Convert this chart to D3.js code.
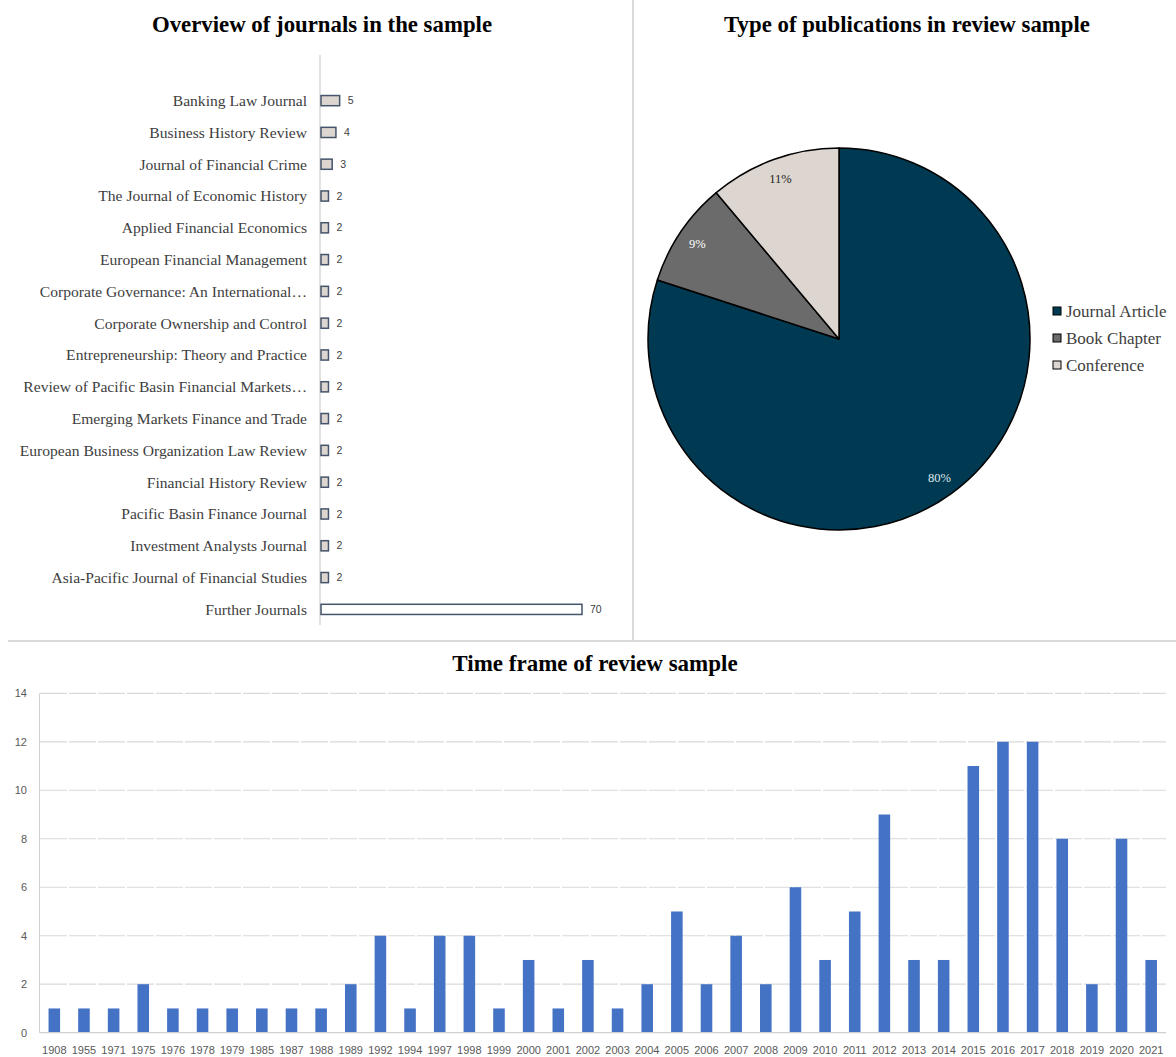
<!DOCTYPE html>
<html>
<head>
<meta charset="utf-8">
<script src="https://cdn.jsdelivr.net/npm/d3@7"></script>
<style>
html,body{margin:0;padding:0;background:#fff;}
svg{display:block;}
</style>
</head>
<body>
<svg id="chart" width="1176" height="1057"></svg>
<script>
// ---------- DATA ----------
const journalNames = [
  "Banking Law Journal",
  "Business History Review",
  "Journal of Financial Crime",
  "The Journal of Economic History",
  "Applied Financial Economics",
  "European Financial Management",
  "Corporate Governance: An International\u2026",
  "Corporate Ownership and Control",
  "Entrepreneurship: Theory and Practice",
  "Review of Pacific Basin Financial Markets\u2026",
  "Emerging Markets Finance and Trade",
  "European Business Organization Law Review",
  "Financial History Review",
  "Pacific Basin Finance Journal",
  "Investment Analysts Journal",
  "Asia-Pacific Journal of Financial Studies",
  "Further Journals"
];
const journalCounts = [5,4,3,2,2,2,2,2,2,2,2,2,2,2,2,2,70];

const pubTypes = ["Journal Article","Book Chapter","Conference"];
const pubCounts = [108,12,15];
const pubLabels = ["80%","9%","11%"];

const years = ["1908","1955","1971","1975","1976","1978","1979","1985","1987","1988",
  "1989","1992","1994","1997","1998","1999","2000","2001","2002","2003",
  "2004","2005","2006","2007","2008","2009","2010","2011","2012","2013",
  "2014","2015","2016","2017","2018","2019","2020","2021"];
const yearCounts = [1,1,1,2,1,1,1,1,1,1,
  2,4,1,4,4,1,3,1,3,1,
  2,5,2,4,2,6,3,5,9,3,
  3,11,12,12,8,2,8,3];
const yTicks = [0,2,4,6,8,10,12,14];

// ---------- DRAW ----------
const svg = d3.select("#chart");
const serif = "'Liberation Serif','Times New Roman',serif";
const sans = "'Liberation Sans','Open Sans',Arial,sans-serif";

// dividers
svg.append("line").attr("x1",633).attr("x2",633).attr("y1",0).attr("y2",641)
  .attr("stroke","#d9d9d9").attr("stroke-width",2);
svg.append("line").attr("x1",8).attr("x2",1176).attr("y1",641).attr("y2",641)
  .attr("stroke","#d9d9d9").attr("stroke-width",2);

// ---------- Panel 1: journals ----------
const p1 = svg.append("g");
p1.append("text").attr("x",322).attr("y",32).attr("text-anchor","middle")
  .attr("font-family",serif).attr("font-weight","bold").attr("font-size",22.8)
  .attr("fill","#000").text("Overview of journals in the sample");

const yJ = d3.scaleBand().domain(journalNames).range([86,624]).paddingInner(0.68).paddingOuter(0.3);
const xJ = d3.scaleLinear().domain([0,70]).range([321,582]);

p1.append("line").attr("x1",320).attr("x2",320).attr("y1",55).attr("y2",625)
  .attr("stroke","#d9d9d9").attr("stroke-width",1.5);

p1.selectAll("rect.jb").data(journalNames).enter().append("rect")
  .attr("class","jb")
  .attr("x",xJ(0))
  .attr("y",d=>yJ(d))
  .attr("width",(d,i)=>xJ(journalCounts[i])-xJ(0))
  .attr("height",yJ.bandwidth())
  .attr("fill",(d,i)=> i===journalNames.length-1 ? "#ffffff" : "#ddd6d0")
  .attr("stroke","#44546a").attr("stroke-width",1.5);

p1.selectAll("text.jl").data(journalNames).enter().append("text")
  .attr("class","jl")
  .attr("x",307).attr("y",d=>yJ(d)+yJ.bandwidth()/2)
  .attr("dy","0.35em").attr("text-anchor","end")
  .attr("font-family",serif).attr("font-size",15.6).attr("fill","#404040")
  .text(d=>d);

p1.selectAll("text.jv").data(journalNames).enter().append("text")
  .attr("class","jv")
  .attr("x",(d,i)=>xJ(journalCounts[i])+8).attr("y",d=>yJ(d)+yJ.bandwidth()/2)
  .attr("dy","0.35em")
  .attr("font-family",sans).attr("font-size",10.5).attr("fill","#404040")
  .text((d,i)=>journalCounts[i]);

// ---------- Panel 2: pie ----------
const p2 = svg.append("g");
p2.append("text").attr("x",907).attr("y",32).attr("text-anchor","middle")
  .attr("font-family",serif).attr("font-weight","bold").attr("font-size",22.8)
  .attr("fill","#000").text("Type of publications in review sample");

const pieColors = d3.scaleOrdinal().domain(pubTypes).range(["#003a52","#6b6b6b","#ddd6d0"]);
const labelColors = d3.scaleOrdinal().domain(pubTypes).range(["#dfe6ea","#ffffff","#222222"]);
const pie = d3.pie().sort(null).value((d,i)=>pubCounts[i]);
const arcs = pie(pubTypes);
const R = 191;
const arc = d3.arc().innerRadius(0).outerRadius(R);
const labelArc = d3.arc().innerRadius(171).outerRadius(171);
const pg = p2.append("g").attr("transform","translate(839,339)");
pg.selectAll("path").data(arcs).enter().append("path")
  .attr("d",arc).attr("fill",d=>pieColors(d.data))
  .attr("stroke","#000").attr("stroke-width",1.5).attr("stroke-linejoin","round");
pg.selectAll("text").data(arcs).enter().append("text")
  .attr("transform",d=>`translate(${labelArc.centroid(d)})`)
  .attr("text-anchor","middle").attr("dy","0.35em")
  .attr("font-family",serif).attr("font-size",12.5)
  .attr("fill",d=>labelColors(d.data))
  .text((d,i)=>pubLabels[i]);

const lg = p2.append("g");
const yL = d3.scalePoint().domain(pubTypes).range([311,365]);
lg.selectAll("rect").data(pubTypes).enter().append("rect")
  .attr("x",1053).attr("y",d=>yL(d)-4).attr("width",8).attr("height",8)
  .attr("fill",d=>pieColors(d)).attr("stroke","#000").attr("stroke-width",1);
lg.selectAll("text").data(pubTypes).enter().append("text")
  .attr("x",1066).attr("y",d=>yL(d)).attr("dy","0.35em")
  .attr("font-family",serif).attr("font-size",17).attr("fill","#404040")
  .text(d=>d);

// ---------- Panel 3: timeline ----------
const p3 = svg.append("g");
p3.append("text").attr("x",595).attr("y",671).attr("text-anchor","middle")
  .attr("font-family",serif).attr("font-weight","bold").attr("font-size",23)
  .attr("fill","#000").text("Time frame of review sample");

const xT = d3.scaleBand().domain(years).range([39.5,1166]).paddingInner(0.61).paddingOuter(0.305);
const yT = d3.scaleLinear().domain([0,14]).range([1032.7,693.3]);

p3.append("g").selectAll("line").data(yTicks.filter(t=>t>0)).enter().append("line")
  .attr("x1",40).attr("x2",1166).attr("y1",d=>yT(d)).attr("y2",d=>yT(d))
  .attr("stroke","#d9d9d9").attr("stroke-width",1.2).attr("stroke-dasharray","27,2");

p3.append("line").attr("x1",39.5).attr("x2",39.5).attr("y1",yT(14)).attr("y2",yT(0))
  .attr("stroke","#d0d0d0").attr("stroke-width",1);

p3.selectAll("rect").data(years).enter().append("rect")
  .attr("x",d=>xT(d)).attr("width",xT.bandwidth())
  .attr("y",(d,i)=>yT(yearCounts[i]))
  .attr("height",(d,i)=>yT(0)-yT(yearCounts[i]))
  .attr("fill","#4472c4");

p3.append("line").attr("x1",39.5).attr("x2",1166).attr("y1",yT(0)).attr("y2",yT(0))
  .attr("stroke","#d0d0d0").attr("stroke-width",1.2);

p3.selectAll("text.yt").data(yTicks).enter().append("text")
  .attr("class","yt")
  .attr("x",27).attr("y",d=>yT(d)).attr("dy","0.35em").attr("text-anchor","end")
  .attr("font-family",sans).attr("font-size",11).attr("fill","#595959")
  .text(d=>d);

p3.selectAll("text.xt").data(years).enter().append("text")
  .attr("class","xt")
  .attr("x",d=>xT(d)+xT.bandwidth()/2).attr("y",1050).attr("dy","0.35em")
  .attr("text-anchor","middle")
  .attr("font-family",sans).attr("font-size",11).attr("fill","#595959")
  .text(d=>d);
</script>
</body>
</html>
